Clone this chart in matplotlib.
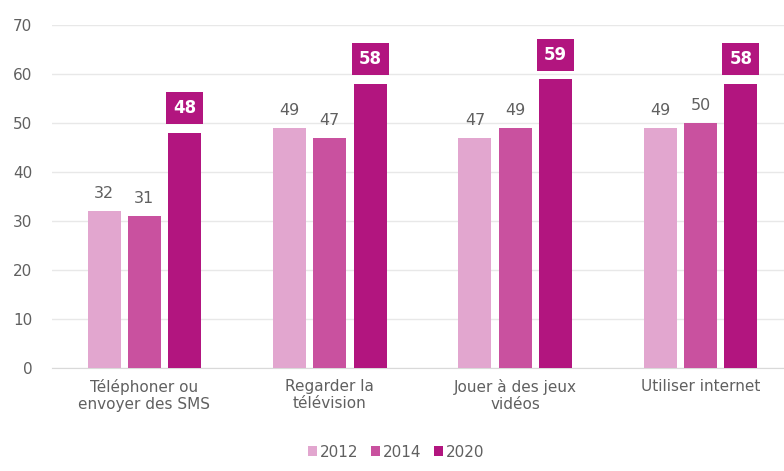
import matplotlib.pyplot as plt
import numpy as np

categories = ["Téléphoner ou\nenvoyer des SMS", "Regarder la\ntélévision",
              "Jouer à des jeux\nvidéos", "Utiliser internet"]
years = ["2012", "2014", "2020"]
v2012 = [32, 49, 47, 49]
v2014 = [31, 47, 49, 50]
v2020 = [48, 58, 59, 58]
colors = ["#e2a6cf", "#c9519f", "#b2157f"]

fig = plt.figure(figsize=(7.84, 4.71), dpi=100)
ax = fig.add_axes([0.066, 0.219, 0.934, 0.728])

x = np.arange(len(categories))
w = 0.178
step = 0.217
series = [v2012, v2014, v2020]
for i, (vals, c, yr) in enumerate(zip(series, colors, years)):
    bars = ax.bar(x + (i - 1) * step, vals, w, color=c, label=yr, zorder=3)
    for b, v in zip(bars, vals):
        cx = b.get_x() + b.get_width() / 2
        if i < 2:
            ax.annotate(str(v), (cx, v), xytext=(0, 7), textcoords="offset points",
                        ha="center", va="bottom", fontsize=11.5, color="#606060")
        else:
            # boxed label for the latest year
            ax.annotate(str(v), (cx, v), xytext=(0, 11), textcoords="offset points",
                        ha="center", va="bottom", fontsize=12, color="white",
                        fontweight="bold",
                        bbox=dict(boxstyle="square,pad=0.42", fc=c, ec="none"))

ax.set_ylim(0, 70)
ax.set_xlim(-0.5, 3.45)
ax.set_yticks(range(0, 71, 10))
ax.set_xticks(x)
ax.set_xticklabels(categories)
ax.grid(axis="y", color="#e8e8e8", lw=1, zorder=0)
for s in ["top", "right", "left"]:
    ax.spines[s].set_visible(False)
ax.spines["bottom"].set_color("#d9d9d9")
ax.tick_params(axis="both", length=0, colors="#606060", labelsize=11)
ax.tick_params(axis="x", pad=8)
ax.tick_params(axis="y", pad=14)

fig.legend(loc="lower center", bbox_to_anchor=(0.505, -0.005), ncol=3, frameon=False,
           fontsize=11, handlelength=0.6, handleheight=0.6, handletextpad=0.2,
           columnspacing=0.8, labelcolor="#606060")

fig.savefig("out.png", dpi=100)
